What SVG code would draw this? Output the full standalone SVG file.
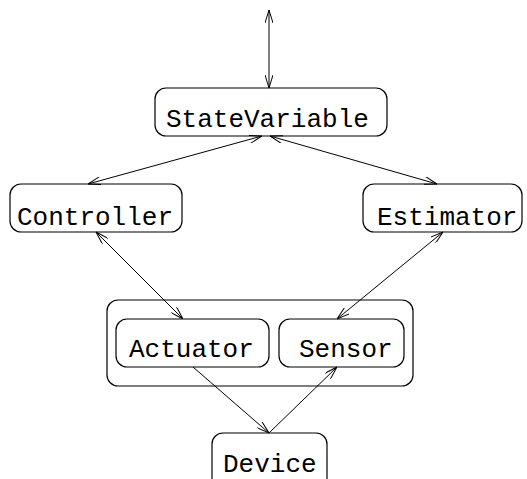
<svg xmlns="http://www.w3.org/2000/svg" width="527" height="479" viewBox="0 0 527 479">
<defs>
<style>
.box{fill:none;stroke:#000;stroke-width:1.2}
.lbl{font-family:"Liberation Mono","Courier New",monospace;font-size:26px;fill:#000}
.edge{stroke:#000;stroke-width:1;fill:none;marker-end:url(#ah)}
.both{marker-start:url(#ahs)}
</style>
<marker id="ah" viewBox="0 0 13 8" refX="13" refY="4" markerWidth="13" markerHeight="8" markerUnits="userSpaceOnUse" orient="auto">
<path d="M0,0 L13,4 L0,8" fill="none" stroke="#000" stroke-width="1"/>
</marker>
<marker id="ahs" viewBox="0 0 13 8" refX="0" refY="4" markerWidth="13" markerHeight="8" markerUnits="userSpaceOnUse" orient="auto">
<path d="M13,0 L0,4 L13,8" fill="none" stroke="#000" stroke-width="1"/>
</marker>
</defs>
<rect width="527" height="479" fill="#fff"/>
<g id="StateVariable">
<rect class="box" x="155" y="88" width="232" height="48" rx="11"/>
<text class="lbl" x="166" y="127">StateVariable</text>
</g>
<g id="Controller">
<rect class="box" x="10" y="184" width="172" height="48" rx="11"/>
<text class="lbl" x="17" y="225">Controller</text>
</g>
<g id="Estimator">
<rect class="box" x="363" y="184" width="159" height="48" rx="11"/>
<text class="lbl" x="377" y="225">Estimator</text>
</g>
<g id="Group">
<rect class="box" x="107" y="300" width="306" height="86" rx="11"/>
</g>
<g id="Actuator">
<rect class="box" x="116" y="319" width="153" height="48" rx="11"/>
<text class="lbl" x="129" y="357">Actuator</text>
</g>
<g id="Sensor">
<rect class="box" x="279" y="319" width="125" height="48" rx="11"/>
<text class="lbl" x="299" y="357">Sensor</text>
</g>
<g id="Device">
<rect class="box" x="212" y="433" width="115" height="60" rx="11"/>
<text class="lbl" x="223" y="472">Device</text>
</g>
<g id="connectors">
<line class="edge both" x1="269" y1="10" x2="269" y2="88"/>
<line class="edge both" x1="262" y1="136" x2="88" y2="184"/>
<line class="edge both" x1="270" y1="136" x2="437" y2="184"/>
<line class="edge both" x1="96" y1="232" x2="183" y2="319"/>
<line class="edge both" x1="443" y1="232" x2="337" y2="319"/>
<line class="edge" x1="193" y1="367" x2="269" y2="433"/>
<line class="edge" x1="269" y1="433" x2="337" y2="367"/>
</g>
</svg>
